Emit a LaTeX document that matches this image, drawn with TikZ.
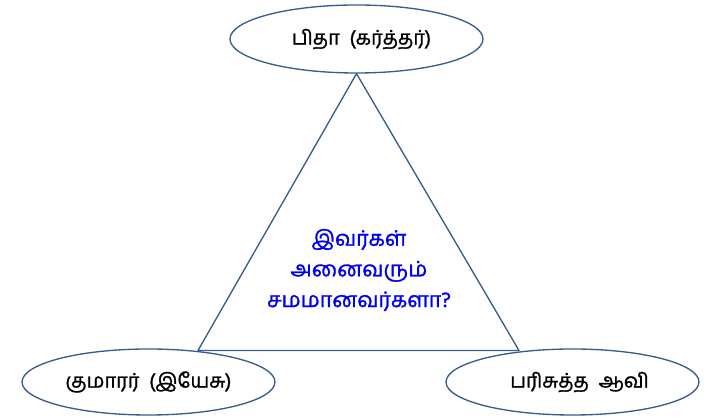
\documentclass[tikz,border=0pt]{standalone}
\usepackage{fontspec}
\newfontfamily\tamilfont[Script=Tamil, FakeBold=1.2, WordSpace=2]{Hind Madurai}
\usetikzlibrary{shapes.geometric, positioning}

\definecolor{outline}{HTML}{385D8A}
\definecolor{askblue}{HTML}{0000F0}

\begin{document}
\begin{tikzpicture}[
        x=0.75pt, y=0.75pt,
        person/.style={ellipse, draw=outline, line width=1pt, fill=white,
            minimum width=253*0.75pt, minimum height=66*0.75pt, inner sep=0pt,
            font=\tamilfont\fontsize{15}{17}\selectfont},
        side/.style={draw=outline, line width=1pt, line join=round}
    ]
    \useasboundingbox (0,0) rectangle (711,420);

    %% ---- Persons ----
    \node[person, minimum height=68*0.75pt] (father) at (356.5,381) {\hspace*{7.5pt}பிதா (கர்த்தர்)};
    \node[person] (son)    at (148.5,38) {குமாரர் (இயேசு)};
    \node[person] (spirit) at (572.5,38) {\hspace*{10.5pt}பரிசுத்த ஆவி};

    %% ---- Triangle corners ----
    \coordinate (sonv)    at (198,69.5);
    \coordinate (spiritv) at (519,69.5);

    \draw[side] (father.south) -- (sonv) -- (spiritv) -- cycle;

    %% ---- Question ----
    \node[align=center, text=askblue, font=\tamilfont\fontsize{16}{23}\selectfont]
    (ask) at (359,150) {இவர்கள்\\அனைவரும்\\சமமானவர்களா?};

\end{tikzpicture}
\end{document}
